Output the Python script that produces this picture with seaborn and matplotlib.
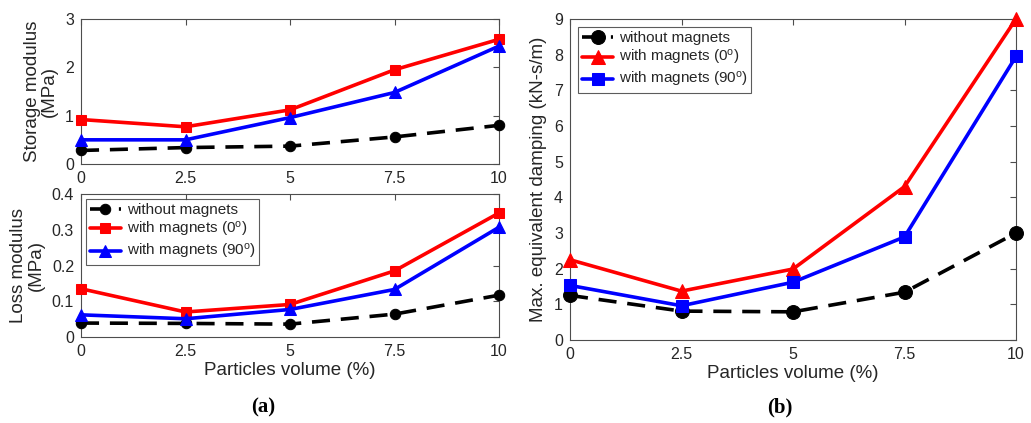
import matplotlib
matplotlib.use("Agg")
import matplotlib.pyplot as plt
import seaborn as sns
import pandas as pd

sns.set_theme(style="white")
plt.rcParams['font.family'] = ['Liberation Sans', 'DejaVu Sans']
plt.rcParams['mathtext.default'] = 'regular'

volume = [0, 2.5, 5, 7.5, 10]
xticks = [0, 2.5, 5, 7.5, 10]
xtick_labels = ["0", "2.5", "5", "7.5", "10"]

storage_without = [0.28, 0.34, 0.37, 0.56, 0.80]
storage_mag0 = [0.92, 0.77, 1.12, 1.95, 2.58]
storage_mag90 = [0.50, 0.50, 0.96, 1.48, 2.44]

loss_without = [0.039, 0.038, 0.036, 0.064, 0.117]
loss_mag0 = [0.135, 0.070, 0.091, 0.185, 0.347]
loss_mag90 = [0.062, 0.051, 0.077, 0.133, 0.307]

damp_without = [1.25, 0.81, 0.79, 1.34, 3.0]
damp_mag0 = [2.25, 1.37, 1.99, 4.30, 9.0]
damp_mag90 = [1.53, 0.96, 1.62, 2.89, 7.95]

lab_without = "without magnets"
lab_0 = "with magnets (0$^{o}$)"
lab_90 = "with magnets (90$^{o}$)"

fig = plt.figure(figsize=(10.31, 4.23), dpi=100)
W, H = 1031, 423
def box(x0, y0, x1, y1):
    return [x0 / W, 1 - y1 / H, (x1 - x0) / W, (y1 - y0) / H]

ax1 = fig.add_axes(box(81, 19, 499, 164))
ax2 = fig.add_axes(box(81, 194, 499, 337))
ax3 = fig.add_axes(box(570, 19, 1016, 340))

axcol = '#4d4d4d'
txtcol = '#262626'
def style(ax):
    ax.set_xlim(0, 10)
    ax.set_xticks(xticks)
    ax.set_xticklabels(xtick_labels)
    ax.tick_params(direction='in', top=True, right=True, length=4, width=0.8,
                   colors=axcol, labelcolor=txtcol, labelsize=11.5, pad=5)
    for s in ax.spines.values():
        s.set_color(axcol)
        s.set_linewidth(0.8)
        s.set_visible(True)

def series(ax, y, color, marker, ls, ms, label):
    df = pd.DataFrame({"x": volume, "y": y})
    sns.lineplot(data=df, x="x", y="y", ax=ax, color=color, marker=marker,
                 markersize=ms, markeredgecolor=color, linewidth=2.6,
                 linestyle=ls, label=label, clip_on=False, zorder=3)

def legend(ax, pad):
    lg = ax.legend(loc='upper left', fontsize=11, frameon=True, fancybox=False,
                   edgecolor='#333333', borderpad=0.25, handlelength=2.0, labelspacing=0.2,
                   handletextpad=0.4, borderaxespad=pad)
    lg.get_frame().set_linewidth(0.8)
    return lg

# (a) top
series(ax1, storage_without, 'black', 'o', (0, (5, 3)), 7.5, lab_without)
series(ax1, storage_mag0, 'red', 's', '-', 7, lab_0)
series(ax1, storage_mag90, 'blue', '^', '-', 8, lab_90)
ax1.get_legend().remove()
style(ax1)
ax1.set_ylim(0, 3)
ax1.set_yticks([0, 1, 2, 3])
ax1.set_xlabel("")
ax1.set_ylabel("Storage modulus\n(MPa)", fontsize=13.5, color=txtcol, labelpad=5, linespacing=1.05)

# (a) bottom
series(ax2, loss_without, 'black', 'o', (0, (5, 3)), 7.5, lab_without)
series(ax2, loss_mag0, 'red', 's', '-', 7, lab_0)
series(ax2, loss_mag90, 'blue', '^', '-', 8, lab_90)
style(ax2)
ax2.set_ylim(0, 0.4)
ax2.set_yticks([0, 0.1, 0.2, 0.3, 0.4])
ax2.set_yticklabels(["0", "0.1", "0.2", "0.3", "0.4"])
ax2.set_xlabel("Particles volume (%)", fontsize=13.5, color=txtcol, labelpad=2)
ax2.set_ylabel("Loss modulus\n(MPa)", fontsize=13.5, color=txtcol, labelpad=5, linespacing=1.05)
legend(ax2, 0.35)

# (b)
series(ax3, damp_without, 'black', 'o', (0, (5, 3)), 10, lab_without)
series(ax3, damp_mag0, 'red', '^', '-', 10, lab_0)
series(ax3, damp_mag90, 'blue', 's', '-', 8.5, lab_90)
style(ax3)
ax3.set_ylim(0, 9)
ax3.set_yticks(range(0, 10))
ax3.set_xlabel("Particles volume (%)", fontsize=13.5, color=txtcol, labelpad=2)
ax3.set_ylabel("Max. equivalent damping (kN-s/m)", fontsize=13.5, color=txtcol, labelpad=5)
legend(ax3, 0.55)

fig.text(263 / W, 1 - 407 / H, "(a)", ha='center', va='center', fontsize=15,
         family=['Liberation Serif', 'DejaVu Serif'], fontweight='bold', color='black')
fig.text(780 / W, 1 - 407 / H, "(b)", ha='center', va='center', fontsize=15,
         family=['Liberation Serif', 'DejaVu Serif'], fontweight='bold', color='black')

fig.savefig("out.png", dpi=100)
